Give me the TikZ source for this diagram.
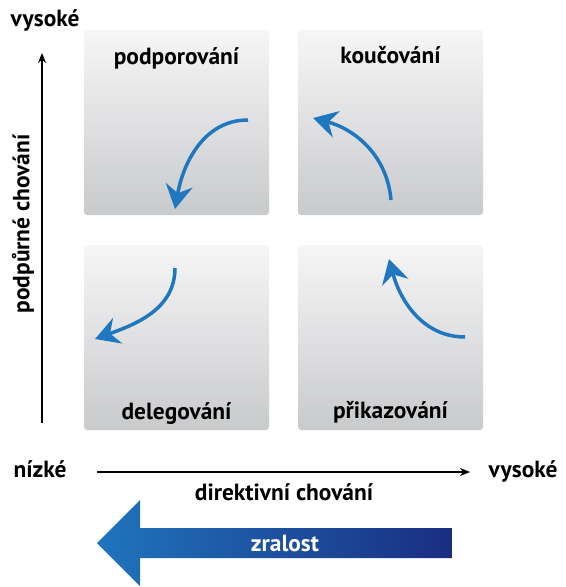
\documentclass[tikz,border=0pt]{standalone}
\usepackage{fontspec}
\setmainfont{PT Sans}
\usetikzlibrary{arrows.meta}

\definecolor{boxtop}{HTML}{F6F6F7}
\definecolor{boxbot}{HTML}{C9CACC}
\definecolor{turnblue}{HTML}{1E77BF}
\definecolor{bigleft}{HTML}{1F74BD}
\definecolor{bigright}{HTML}{1A2E82}

\begin{document}
\begin{tikzpicture}[
        x=1bp, y=-1bp,
        font=\fontsize{23.5}{27}\selectfont\bfseries,
        quad/.style={rounded corners=3bp,top color=boxtop,bottom color=boxbot,
            minimum width=185bp,minimum height=185bp,inner sep=0pt},
        title/.style={anchor=base,inner sep=0pt},
        turn/.style={draw=turnblue,line width=3.5bp,
            -{Stealth[length=24bp,width=27bp,inset=8bp]}},
        axis/.style={draw=black,line width=1.3bp,-{Stealth[length=10bp,width=8bp]}},
        ]
    \useasboundingbox (0,0) rectangle (566,587);

    % the four quadrants
    \node[quad] (pod) at (176.5,122.5) {};
    \node[quad] (kou) at (390.5,122.5) {};
    \node[quad] (del) at (176.5,337.5) {};
    \node[quad] (pri) at (390.5,337.5) {};

    \node[title] (tpod) at (176.5,65) {podporování};
    \node[title] (tkou) at (390.5,64) {koučování};
    \node[title] (tdel) at (176.5,419) {delegování};
    \node[title] (tpri) at (390.5,418) {přikazování};

    % turning arrows
    \coordinate (pod1) at (248,120);
    \coordinate (pod2) at (175,209);
    \coordinate (kou1) at (391,200);
    \coordinate (kou2) at (313,118);
    \coordinate (del1) at (175,268);
    \coordinate (del2) at (95,339);
    \coordinate (pri1) at (465,337);
    \coordinate (pri2) at (389,259);
    \draw[turn] (pod1) to[out=180,in=80] (pod2);
    \draw[turn] (kou1) to[out=95,in=-15] (kou2);
    \draw[turn] (del1) to[out=-90,in=20] (del2);
    \draw[turn] (pri1) to[out=180,in=-75] (pri2);

    % axes
    \coordinate (y0) at (42,423);
    \coordinate (y1) at (42,53);
    \coordinate (x0) at (97,472);
    \coordinate (x1) at (470,472);
    \draw[axis] (y0) -- (y1);
    \draw[axis] (x0) -- (x1);

    \node[title] (yhigh) at (45,27) {vysoké};
    \node[rotate=90,inner sep=0pt] (ylab) at (23,224) {podpůrné chování};
    \node[title] (xlow) at (40,477) {nízké};
    \node[title] (xhigh) at (523,477) {vysoké};
    \node[title] (xlab) at (284,500) {direktivní chování};

    % maturity arrow
    \shade[left color=bigleft,right color=bigright]
        (452,528) -- (140,528) -- (140,500) -- (97,543) -- (140,586)
        -- (140,558) -- (452,558) -- cycle;
    \node[title,text=white] (zralost) at (285,551) {zralost};
\end{tikzpicture}
\end{document}
